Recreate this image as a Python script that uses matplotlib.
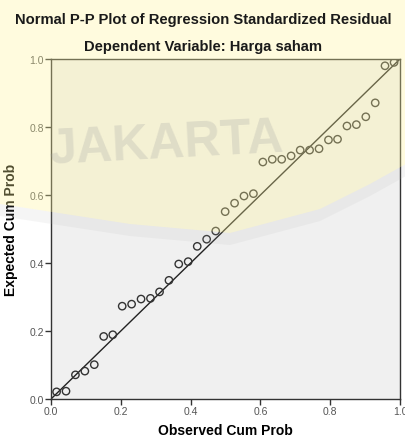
import matplotlib
matplotlib.use("Agg")
import matplotlib.pyplot as plt
from matplotlib.patches import Polygon

plt.rcParams['font.family'] = ['Liberation Sans', 'DejaVu Sans']

# --- data (37 residuals) ---
observed = [0.016, 0.043, 0.070, 0.097, 0.124, 0.151, 0.177, 0.204, 0.231, 0.258,
            0.285, 0.311, 0.338, 0.366, 0.393, 0.419, 0.446, 0.472, 0.499, 0.526,
            0.553, 0.580, 0.607, 0.634, 0.661, 0.688, 0.714, 0.741, 0.768, 0.795,
            0.821, 0.848, 0.875, 0.902, 0.929, 0.957, 0.983]
expected = [0.021, 0.023, 0.071, 0.082, 0.101, 0.184, 0.189, 0.273, 0.279, 0.294,
            0.296, 0.315, 0.349, 0.397, 0.404, 0.449, 0.470, 0.494, 0.551, 0.576,
            0.597, 0.604, 0.697, 0.705, 0.705, 0.715, 0.732, 0.732, 0.736, 0.762,
            0.764, 0.803, 0.807, 0.830, 0.871, 0.980, 0.990]
ref_line = [0.0, 1.0]
ticks = [0.0, 0.2, 0.4, 0.6, 0.8, 1.0]
tick_labels = ["0.0", "0.2", "0.4", "0.6", "0.8", "1.0"]

fig = plt.figure(figsize=(4.06, 4.39), dpi=100)
ax = fig.add_axes([51 / 406, 39 / 439, 349 / 406, 340 / 439])
ax.set_facecolor('#f0f0f0')

ax.plot(ref_line, ref_line, color='#222222', lw=1.0, zorder=2)
ax.scatter(observed, expected, s=28, facecolors='none', edgecolors='#333333',
           linewidths=1.0, zorder=3)

ax.set_xlim(0, 1)
ax.set_ylim(0, 1)
ax.set_xticks(ticks)
ax.set_xticklabels(tick_labels)
ax.set_yticks(ticks)
ax.set_yticklabels(tick_labels)
ax.tick_params(direction='out', length=4, width=1, color='#333333',
               labelsize=7.5, labelcolor='#555555', pad=1)
for s in ax.spines.values():
    s.set_color('#333333')
    s.set_linewidth(1.0)

ax.set_xlabel("Observed Cum Prob", fontsize=10, fontweight='bold', labelpad=5)
ax.set_ylabel("Expected Cum Prob", fontsize=10, fontweight='bold', labelpad=8)

fig.text(0.5, 1 - 20 / 439, "Normal P-P Plot of Regression Standardized Residual",
         ha='center', va='center', fontsize=10.6, fontweight='bold',
         color='#1a1a1a', zorder=12)
fig.text(0.5, 1 - 47 / 439, "Dependent Variable: Harga saham",
         ha='center', va='center', fontsize=10.6, fontweight='bold',
         color='#1a1a1a', zorder=12)

# --- faint watermark (yellow banner + JAKARTA) ---
def fp(x, y):
    return (x / 406, 1 - y / 439)

edge = [(0, 205), (130, 225), (230, 234), (320, 210), (370, 185), (406, 165)]
banner = [fp(0, 0), fp(406, 0)] + [fp(x, y) for x, y in reversed(edge)]
fig.patches.append(Polygon(banner, closed=True, transform=fig.transFigure,
                           facecolor='#fff59a', alpha=0.32, edgecolor='none',
                           zorder=10))
band = [fp(x, y) for x, y in edge] + [fp(x, y + 12) for x, y in reversed(edge)]
fig.patches.append(Polygon(band, closed=True, transform=fig.transFigure,
                           facecolor='#b0b0b0', alpha=0.12, edgecolor='none',
                           zorder=10))
fig.text(166 / 406, 1 - 145 / 439, "JAKARTA", ha='center', va='center',
         fontsize=36, fontweight='bold', color='#a0a0a0', alpha=0.25,
         rotation=3, zorder=11)

fig.savefig("out.png", dpi=100)
